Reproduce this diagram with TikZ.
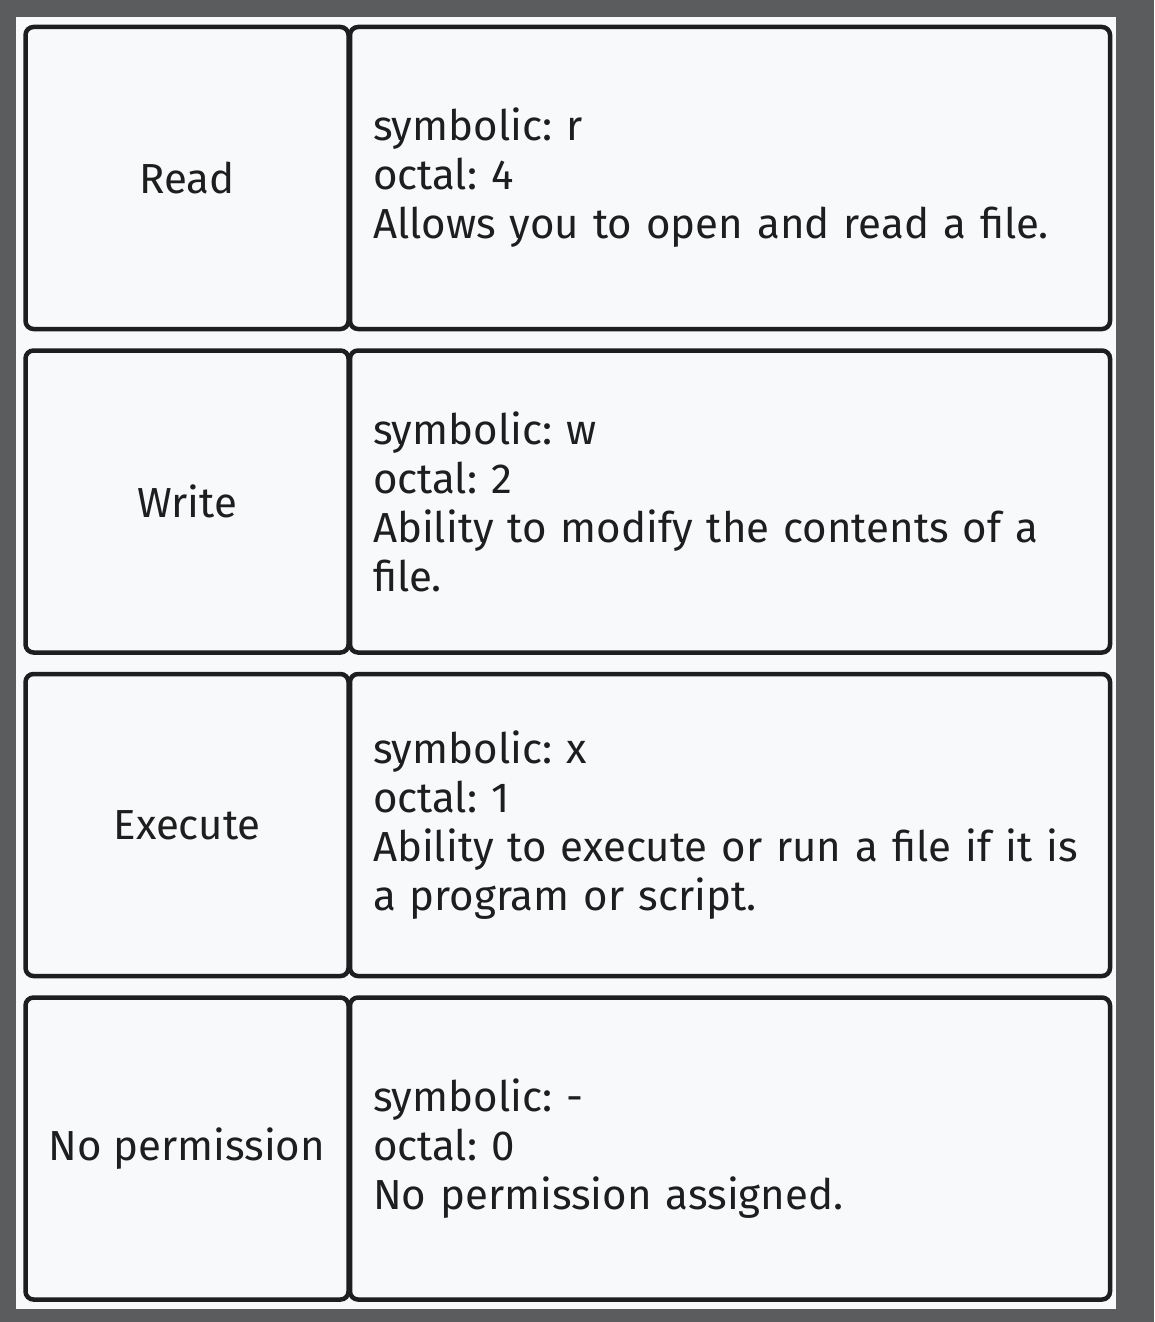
\documentclass[tikz,border=0pt]{standalone}
\usepackage{fontspec}
\setmainfont{Fira Sans}
\usetikzlibrary{positioning}
\definecolor{framegray}{HTML}{5B5C5E}
\definecolor{panelwhite}{HTML}{F8F9FB}
\definecolor{inkblack}{HTML}{1E1E1E}
\frenchspacing
\begin{document}
\begin{tikzpicture}
			[
				x = 1pt, y = -1pt,
				namebox/.style = {draw = inkblack, fill = panelwhite, rectangle, line width = 4.5pt, rounded corners = 8pt, minimum height = 302pt, minimum width = 323pt, text = inkblack, font = \fontsize{42}{49}\selectfont},
				infobox/.style = {namebox, minimum width = 760pt, text width = 714pt, inner xsep = 23pt, align = left},
				rowgap/.style = {node distance = 17pt}
			]
			%
			\fill [framegray] (0,0) rectangle (1154,1322);
			\fill [panelwhite] (16,17) rectangle (1116,1309);
			%
			\node (read) [namebox] at (187,178) {Read};
			\node (readinfo) [infobox, right = -3pt of read] {symbolic: r\\octal: 4\\Allows you to open and read a file.};
			%
			\node (write) [namebox, rowgap, below = of read] {Write};
			\node (writeinfo) [infobox, right = -3pt of write] {symbolic: w\\octal: 2\\Ability to modify the contents of a\\file.};
			%
			\node (execute) [namebox, rowgap, below = of write] {Execute};
			\node (executeinfo) [infobox, right = -3pt of execute] {symbolic: x\\octal: 1\\Ability to execute or run a file if it is\\a program or script.};
			%
			\node (noperm) [namebox, rowgap, below = of execute] {No permission};
			\node (nopermInfo) [infobox, right = -3pt of noperm] {symbolic: -\\octal: 0\\No permission assigned.};
			%
		\end{tikzpicture}
\end{document}
